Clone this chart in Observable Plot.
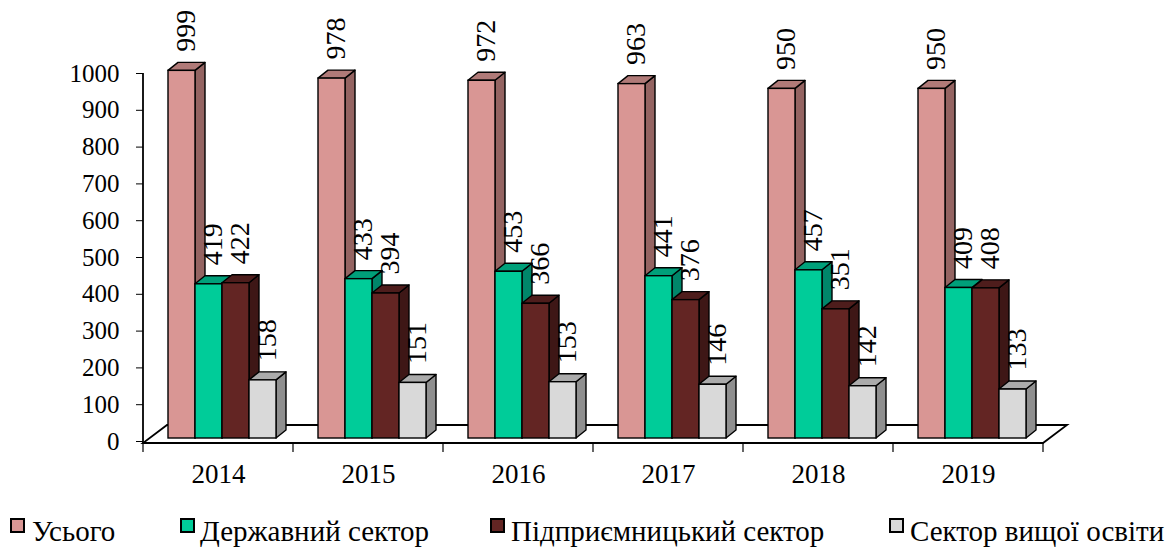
<!DOCTYPE html>
<html>
<head>
<meta charset="utf-8">
<script src="https://cdn.jsdelivr.net/npm/d3@7"></script>
<script src="https://cdn.jsdelivr.net/npm/@observablehq/plot@0.6"></script>
<style>
  body { margin: 0; background: #fff; font-family: "Liberation Serif", "Times New Roman", serif; }
  #chart svg { display: block; }
  #chart svg, #chart svg text { font-family: "Liberation Serif", "Times New Roman", serif !important; font-variant: normal !important; }
  #legend { position: relative; width: 1175px; height: 47px; }
  .sw { position: absolute; top: 18px; width: 11px; height: 11px; border: 2px solid #000; }
  .lt { position: absolute; top: 0; height: 62px; line-height: 62px; font-size: 29px; color: #000; white-space: nowrap; font-family: "Liberation Serif", "Times New Roman", serif; }
</style>
</head>
<body>
<div id="chart"></div>
<div id="legend"></div>
<script>
// ---- data ----
const years = ["2014", "2015", "2016", "2017", "2018", "2019"];
const series = ["Усього", "Державний сектор", "Підприємницький сектор", "Сектор вищої освіти"];
const total    = [999, 978, 972, 963, 950, 950];
const state    = [419, 433, 453, 441, 457, 409];
const business = [422, 394, 366, 376, 351, 408];
const higher   = [158, 151, 153, 146, 142, 133];
const yTicks = [0, 100, 200, 300, 400, 500, 600, 700, 800, 900, 1000];

// ---- styles ----
const FONT = "'Liberation Serif', 'Times New Roman', serif";
const frontColors = ["#D99694", "#00CC99", "#632523", "#D9D9D9"];
const topColors   = ["#B07A78", "#00A07A", "#4E1D1C", "#ABABAB"];
const sideColors  = ["#946462", "#00866A", "#3E1716", "#8F8F8F"];
const DEPTH_X = 10, DEPTH_Y = 8, LIFT = 3;

const seriesValues = [total, state, business, higher];
const data = [];
years.forEach((yr, i) => series.forEach((s, k) => data.push({year: yr, series: s, k, value: seriesValues[k][i]})));

function bars3d(k) {
  const rows = data.filter(d => d.k === k);
  return Plot.barY(rows, {
    fx: "year", x: "series", y: "value",
    fill: frontColors[k], stroke: "#000", strokeWidth: 1.4, dy: -LIFT,
    render(index, scales, values, dims, ctx, next) {
      const g = d3.create("svg:g");
      const xs = scales.x;
      const bw = typeof xs.bandwidth === "function" ? xs.bandwidth() : scales.scales.x.bandwidth;
      for (const i of index) {
        const d = rows[i];
        const xl = values.x ? values.x[i] : xs(d.series);
        const xr = xl + bw;
        const yt = scales.y(d.value) - LIFT;
        const yb = scales.y(0) - LIFT;
        g.append("polygon")
          .attr("points", [[xr, yt], [xr + DEPTH_X, yt - DEPTH_Y], [xr + DEPTH_X, yb - DEPTH_Y], [xr, yb]].join(" "))
          .attr("fill", sideColors[k]).attr("stroke", "#000").attr("stroke-width", 1.4).attr("stroke-linejoin", "round");
        g.append("polygon")
          .attr("points", [[xl, yt], [xl + DEPTH_X, yt - DEPTH_Y], [xr + DEPTH_X, yt - DEPTH_Y], [xr, yt]].join(" "))
          .attr("fill", topColors[k]).attr("stroke", "#000").attr("stroke-width", 1.4).attr("stroke-linejoin", "round");
      }
      g.append(() => next(index, scales, values, dims, ctx));
      return g.node();
    }
  });
}

const floor = Plot.frame({
  facet: "super",
  render(index, scales, values, dims) {
    const fx = scales.fx;
    const y = scales.y;
    const [x0, x1] = fx.range();
    const y0 = (y ? y(0) : dims.height - dims.marginBottom) + 2;
    const yTop = y ? y(1000) : dims.marginTop;
    const g = d3.create("svg:g").attr("fill", "none").attr("stroke", "#000");
    g.append("polygon")
      .attr("points", [[x0, y0], [x1, y0], [x1 + 24, y0 - 18], [x0 + 24, y0 - 18]].join(" "))
      .attr("fill", "#fff").attr("stroke-width", 1.8);
    g.append("line").attr("x1", x0).attr("x2", x0).attr("y1", yTop).attr("y2", y0).attr("stroke-width", 1.8);
    const bounds = fx.domain().map(d => fx(d)).concat([x1]);
    for (const bx of bounds) {
      g.append("line").attr("x1", bx).attr("x2", bx).attr("y1", y0).attr("y2", y0 + 9).attr("stroke-width", 1.2);
    }
    return g.node();
  }
});

const chart = Plot.plot({
  width: 1175,
  height: 500,
  marginLeft: 143,
  marginRight: 132,
  marginTop: 73,
  marginBottom: 59,
  style: {fontFamily: FONT, fontSize: "25px", color: "#000", background: "#fff"},
  fx: {domain: years, padding: 0, label: null, axis: null},
  x: {domain: series, paddingInner: 0, paddingOuter: 0.6786, align: 0.6, axis: null},
  y: {domain: [0, 1000], label: null},
  marks: [
    floor,
    Plot.axisY(yTicks, {tickSize: 7, tickPadding: 17, tickFormat: d => String(d), fontSize: 25, fontFamily: FONT, label: null}),
    Plot.text(years, {fx: d => d, text: d => d, frameAnchor: "bottom", lineAnchor: "middle", dy: 33, fontSize: 27, fill: "#000", fontFamily: FONT}),
    bars3d(0), bars3d(1), bars3d(2), bars3d(3),
    Plot.text(data, {
      fx: "year", x: "series", y: "value", text: d => String(d.value),
      rotate: -90, textAnchor: "start", dx: 4, dy: -22, fontSize: 28, fill: "#000", fontFamily: FONT
    })
  ]
});
document.getElementById("chart").appendChild(chart);

// ---- legend ----
const legendSwatchX = [10, 180, 490, 889];
const legendTextX = [32, 200, 511, 910];
const legend = document.getElementById("legend");
series.forEach((s, k) => {
  const sw = document.createElement("span");
  sw.className = "sw";
  sw.style.left = legendSwatchX[k] + "px";
  sw.style.background = frontColors[k];
  legend.appendChild(sw);
  const t = document.createElement("span");
  t.className = "lt";
  t.style.left = legendTextX[k] + "px";
  t.textContent = s;
  legend.appendChild(t);
});
</script>
</body>
</html>
